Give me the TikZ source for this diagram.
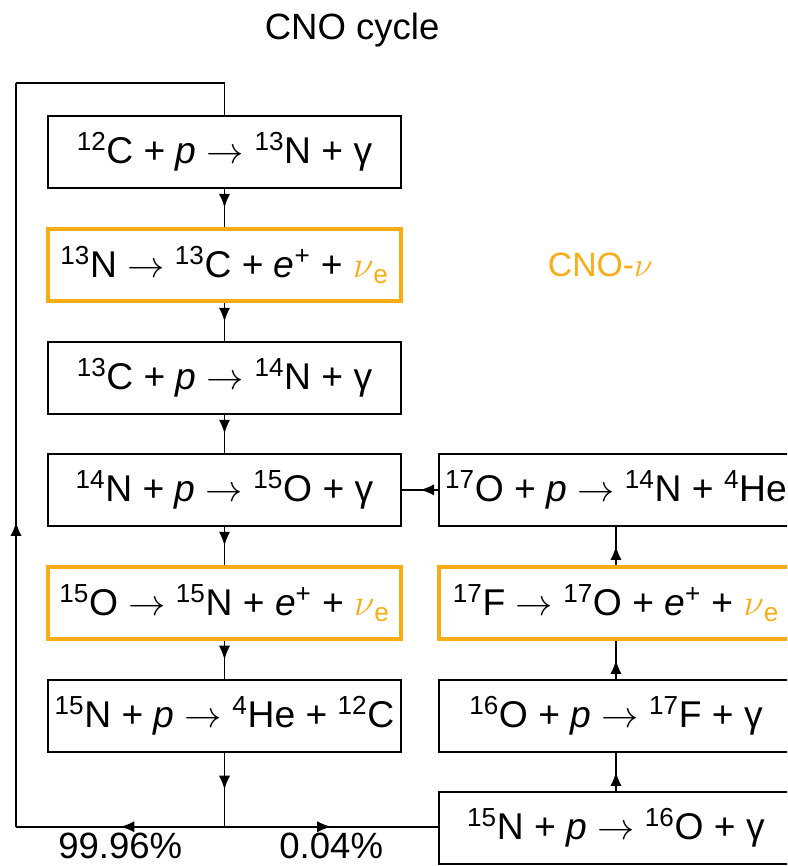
\documentclass[tikz,border=0pt]{standalone}
\usepackage{fix-cm}
\usepackage{fontspec}
\setmainfont{Liberation Sans}
\usetikzlibrary{arrows.meta,positioning,calc,decorations.markings}
\definecolor{cnoorange}{RGB}{250,172,20}
\newcommand{\nuc}[2]{\textsuperscript{#1}#2}
\newcommand{\yields}{$\rightarrow$}
\newcommand{\nue}{{\color{cnoorange}$\nu$\textsubscript{e}}}
\tikzset{
  reacbox/.style={rectangle,draw=black,line width=1.4pt,minimum width=8.825cm,minimum height=1.8cm,inner sep=0pt,align=center,font=\fontsize{26.5}{32}\selectfont},
  betabox/.style={reacbox,draw=cnoorange,line width=2.8pt},
  sidebox/.style={reacbox,minimum width=8.85cm},
  sidebeta/.style={betabox,minimum width=8.85cm},
  labeltxt/.style={font=\fontsize{26}{30}\selectfont},
  flow/.style={draw=black,line width=1.4pt},
  midarr/.style={flow,decoration={markings,mark=at position #1 with {\arrow{Latex[length=10pt,width=8pt]}}},postaction={decorate}},
  midarr/.default=0.5
}
\begin{document}
\begin{tikzpicture}[node distance=0.95cm and 0.9cm]
  \clip (-5.6125,3.8) rectangle (14.0625,-17.85);
  \node[labeltxt] (title) at (3.19,3.05) {CNO cycle};
  % main chain
  \node[reacbox] (r1) at (0,0) {\nuc{12}{C} + \textit{p} \yields{} \nuc{13}{N} + γ};
  \node[betabox,below=of r1] (r2) {\nuc{13}{N} \yields{} \nuc{13}{C} + \textit{e}\textsuperscript{+} + \nue};
  \node[reacbox,below=of r2] (r3) {\nuc{13}{C} + \textit{p} \yields{} \nuc{14}{N} + γ};
  \node[reacbox,below=of r3] (r4) {\nuc{14}{N} + \textit{p} \yields{} \nuc{15}{O} + γ};
  \node[betabox,below=of r4] (r5) {\nuc{15}{O} \yields{} \nuc{15}{N} + \textit{e}\textsuperscript{+} + \nue};
  \node[reacbox,below=of r5] (r6) {\nuc{15}{N} + \textit{p} \yields{} \nuc{4}{He} + \nuc{12}{C}};
  \node[labeltxt,font=\fontsize{24}{28}\selectfont,text=cnoorange,right=3.5cm of r2] (cnonu) {CNO-$\nu$};
  % side branch
  \node[sidebox,right=of r4] (s4) {\nuc{17}{O} + \textit{p} \yields{} \nuc{14}{N} + \nuc{4}{He}};
  \node[sidebeta,below=of s4] (s5) {\nuc{17}{F} \yields{} \nuc{17}{O} + \textit{e}\textsuperscript{+} + \nue};
  \node[sidebox,below=of s5] (s6) {\nuc{16}{O} + \textit{p} \yields{} \nuc{17}{F} + γ};
  \node[sidebox,below=of s6] (s7) {\nuc{15}{N} + \textit{p} \yields{} \nuc{16}{O} + γ};
  \coordinate[below=1.85cm of r6] (j);
  \coordinate[left=0.775cm of r1.west] (lx);
  \coordinate[above=0.8cm of r1] (tp);
  \foreach \a/\b in {r1/r2,r2/r3,r3/r4,r4/r5,r5/r6,r6/j}
    \draw[midarr] (\a) -- (\b);
  \foreach \a/\b in {s7/s6,s6/s5,s5/s4,s4/r4}
    \draw[midarr] (\a) -- (\b);
  \draw[midarr] (j) -- node[labeltxt,below=0.02cm] (pmain) {99.96\%} (j -| lx);
  \draw[midarr=0.41] (j -| lx) -- (tp -| lx);
  \draw[flow] (tp -| lx) -- (tp) -- (r1);
  \draw[midarr] (j) -- node[labeltxt,below=0.02cm] (pside) {0.04\%} (j -| s7.west);
\end{tikzpicture}
\end{document}
